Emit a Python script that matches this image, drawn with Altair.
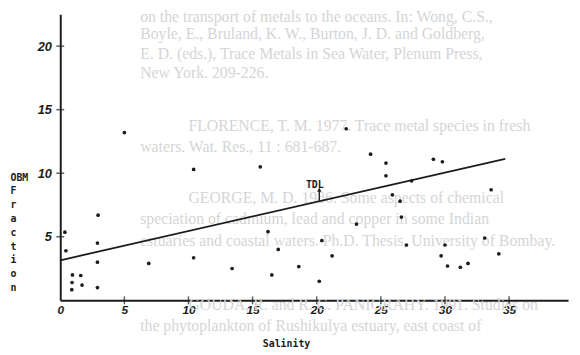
import altair as alt
import pandas as pd

# ---- data ----
salinity = [0.36, 0.44, 0.95, 1.6, 0.92, 1.7, 0.9, 2.95, 2.9, 2.9, 2.9, 5.0, 6.9,
            10.4, 10.4, 13.4, 15.6, 16.2, 16.5, 17.0, 18.6, 20.2, 20.4, 21.2,
            22.3, 23.1, 24.2, 25.4, 25.4, 25.9, 26.5, 26.6, 27.0, 27.4,
            29.1, 29.8, 30.0, 29.7, 30.2, 31.2, 31.8, 33.1, 33.6, 34.2]
fraction = [5.36, 3.9, 2.0, 1.95, 1.4, 1.2, 0.84, 6.7, 4.5, 3.0, 1.0, 13.2, 2.9,
            10.3, 3.35, 2.5, 10.5, 5.4, 2.0, 4.0, 2.65, 1.5, 4.7, 3.5,
            13.5, 6.0, 11.5, 10.8, 9.8, 8.3, 7.8, 6.55, 4.35, 9.4,
            11.1, 10.9, 4.35, 3.5, 2.7, 2.6, 2.9, 4.9, 8.7, 3.65]

line_x = [0.0, 34.7]
line_y = [3.15, 11.12]

x_ticks = [5, 10, 15, 20, 25, 30, 35]
y_ticks = [5, 10, 15, 20]
x_labels = [0, 5, 10, 15, 20, 25, 30, 35]

tdl_label = "TDL"
tdl_x = 19.85
tdl_y = 9.1
arrow_x = 20.2
arrow_from = 7.8
arrow_to = 8.7

# faint text showing through the scanned page
bleed_lines = [
    "on the transport of metals to the oceans. In: Wong, C.S.,",
    "Boyle, E., Bruland, K. W., Burton, J. D. and Goldberg,",
    "E. D. (eds.), Trace Metals in Sea Water, Plenum Press,",
    "New York. 209-226.",
    "FLORENCE, T. M. 1977. Trace metal species in fresh",
    "waters. Wat. Res., 11 : 681-687.",
    "GEORGE, M. D. 1986. Some aspects of chemical",
    "speciation of cadmium, lead and copper in some Indian",
    "estuaries and coastal waters. Ph.D. Thesis, University of Bombay.",
    "GOUDA, R. and R. C. PANIGRAHY. 1991. Studies on",
    "the phytoplankton of Rushikulya estuary, east coast of",
]
bleed_pos = [(81, 3), (81, 20), (81, 40), (81, 60), (130, 113), (81, 135),
             (130, 186), (81, 208), (81, 230), (130, 295), (81, 316)]

INK = "#1c1c1c"
XDOM = [0, 39.6]
YDOM = [0, 22.5]

pts = pd.DataFrame({"salinity": salinity, "fraction": fraction})
ln = pd.DataFrame({"salinity": line_x, "fraction": line_y})
xt = pd.DataFrame({"salinity": x_ticks, "fraction": [0] * len(x_ticks)})
yt = pd.DataFrame({"salinity": [0] * len(y_ticks), "fraction": y_ticks})
ann = pd.DataFrame({"salinity": [tdl_x], "fraction": [tdl_y], "t": [tdl_label]})
arr = pd.DataFrame({"salinity": [arrow_x], "fraction": [arrow_from], "f2": [arrow_to]})
head = pd.DataFrame({"salinity": [arrow_x], "fraction": [arrow_to]})

xs = alt.Scale(domain=XDOM, nice=False, zero=False)
ys = alt.Scale(domain=YDOM, nice=False, zero=False)

x_axis = alt.Axis(values=x_labels, format="d", title="Salinity", titleX=229, titleY=44,
                  titleBaseline="middle", titleAlign="center", titleFont="DejaVu Sans Mono",
                  titleFontSize=10, titleFontWeight="bold", titleColor=INK,
                  labelFont="Liberation Sans", labelFontStyle="italic", labelFontWeight="bold",
                  labelFontSize=12, labelColor=INK, labelPadding=4, labelFlush=False,
                  labelOverlap=False, ticks=False, grid=False, domainColor=INK, domainWidth=2)

y_title = ["OBM"] + ["\u00a0\u00a0" + c for c in "Fraction"]
y_axis = alt.Axis(values=y_ticks, format="d", title=y_title, titleAngle=0, titleAlign="left",
                  titleBaseline="top", titleX=-51, titleY=160, titleLineHeight=14,
                  titleFont="DejaVu Sans Mono", titleFontSize=10, titleFontWeight="bold",
                  titleColor=INK, labelFont="Liberation Sans", labelFontStyle="italic",
                  labelFontWeight="bold", labelFontSize=13, labelColor=INK, labelPadding=9,
                  labelOverlap=False, ticks=False, grid=False, domainColor=INK, domainWidth=2)

X = alt.X("salinity:Q", scale=xs, axis=x_axis)
Y = alt.Y("fraction:Q", scale=ys, axis=y_axis)

layers = []
one = pd.DataFrame({"a": [0]})
for (px, py), t in zip(bleed_pos, bleed_lines):
    layers.append(
        alt.Chart(one).mark_text(align="left", baseline="middle", font="Liberation Serif",
                                 fontSize=16, color="#d5d5d5")
        .encode(x=alt.value(px), y=alt.value(py), text=alt.value(t))
    )

points = alt.Chart(pts).mark_circle(size=14, color=INK, opacity=1).encode(x=X, y=Y)
line = alt.Chart(ln).mark_line(color=INK, strokeWidth=1.8).encode(x=X, y=Y)
xtick = alt.Chart(xt).mark_tick(orient="vertical", size=8, thickness=1.5, color=INK).encode(x=X, y=Y)
ytick = alt.Chart(yt).mark_tick(orient="horizontal", size=8, thickness=1.5, color=INK).encode(x=X, y=Y)
tdl = alt.Chart(ann).mark_text(font="DejaVu Sans Mono", fontSize=10, fontWeight="bold",
                               color=INK).encode(x=X, y=Y, text="t:N")
shaft = alt.Chart(arr).mark_rule(color=INK, strokeWidth=1.3).encode(x=X, y=Y, y2="f2:Q")
arrowhead = alt.Chart(head).mark_point(shape="triangle-up", size=20, filled=True,
                                       color=INK, opacity=1).encode(x=X, y=Y)

chart = alt.layer(*layers, line, xtick, ytick, points, tdl, shaft, arrowhead).properties(
    width=515, height=290,
    padding={"left": 53, "top": 4, "right": 4, "bottom": 51},
    autosize=alt.AutoSizeParams(type="none"),
    background="white",
).configure_view(stroke=None)

chart.save("out.html", embed_options={"renderer": "svg", "actions": False})
